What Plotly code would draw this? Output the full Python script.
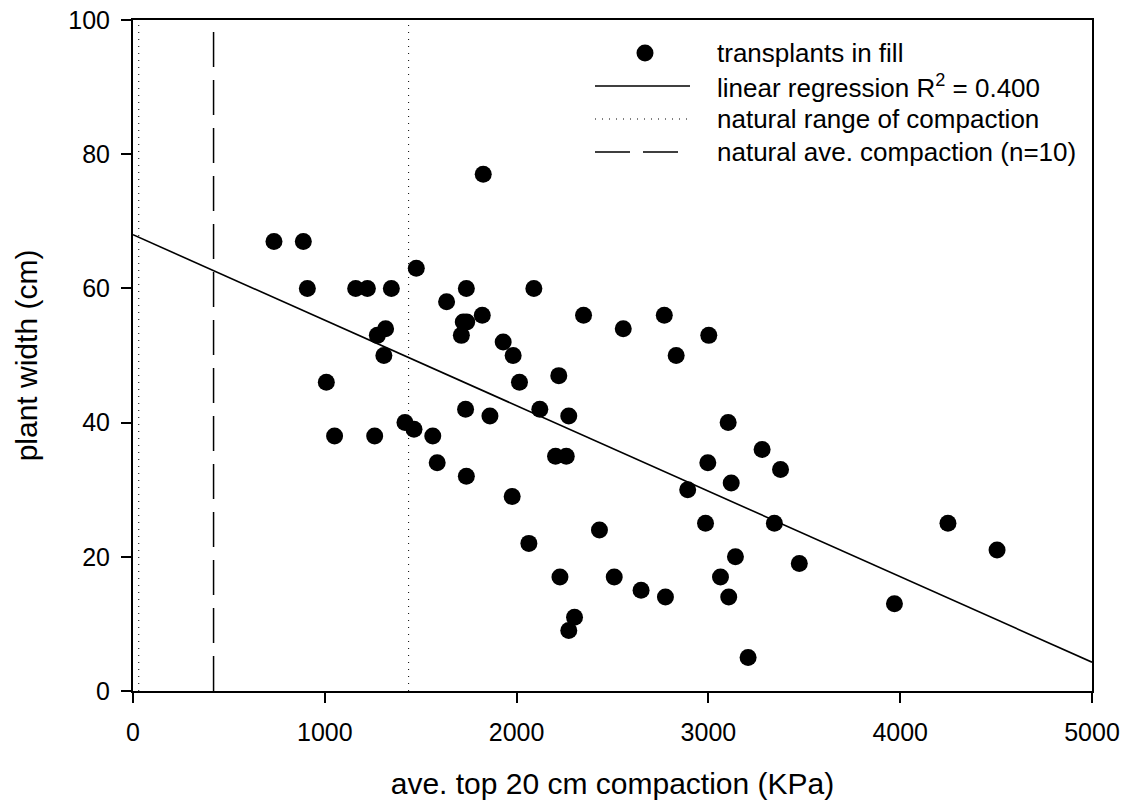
import plotly.graph_objects as go

# ---- data ----
compaction_kpa = [735, 888, 909, 1008, 1051, 1161, 1222, 1260, 1274, 1308, 1317, 1347,
                  1418, 1465, 1477, 1563, 1586, 1635, 1712, 1722, 1740, 1734, 1738, 1738,
                  1826, 1821, 1861, 1930, 1977, 1982, 2015, 2064, 2090, 2121, 2203, 2220,
                  2226, 2259, 2272, 2272, 2302, 2349, 2432, 2509, 2556, 2649, 2770, 2776,
                  2832, 2892, 2985, 2997, 3002, 3063, 3103, 3106, 3119, 3141, 3207, 3280,
                  3344, 3376, 3474, 3970, 4249, 4505]
plant_width_cm = [67, 67, 60, 46, 38, 60, 60, 38, 53, 50, 54, 60,
                  40, 39, 63, 38, 34, 58, 53, 55, 55, 42, 60, 32,
                  77, 56, 41, 52, 29, 50, 46, 22, 60, 42, 35, 47,
                  17, 35, 9, 41, 11, 56, 24, 17, 54, 15, 56, 14,
                  50, 30, 25, 34, 53, 17, 40, 14, 31, 20, 5, 36,
                  25, 33, 19, 13, 25, 21]

regression_x = [0, 5000]
regression_y = [68.0, 4.3]

natural_range = [30, 1437]      # KPa, dotted lines
natural_ave = 420               # KPa, dashed line

x_ticks = [0, 1000, 2000, 3000, 4000, 5000]
y_ticks = [0, 20, 40, 60, 80, 100]

legend_labels = ["transplants in fill",
                 "linear regression R<sup>2</sup> = 0.400",
                 "natural range of compaction",
                 "natural ave. compaction (n=10)"]

FONT = "Liberation Sans, Arial, sans-serif"
DOT = "1px,6px"
DASH = "35px,13px"

fig = go.Figure()

for xv in natural_range:
    fig.add_trace(go.Scatter(x=[xv, xv], y=[0, 100], mode="lines",
                             line=dict(color="black", width=1, dash=DOT),
                             name="natural range of compaction", showlegend=False,
                             hoverinfo="skip"))
fig.add_trace(go.Scatter(x=[natural_ave, natural_ave], y=[0, 100], mode="lines",
                         line=dict(color="black", width=1.5, dash=DASH),
                         name="natural ave. compaction (n=10)", showlegend=False))
fig.add_trace(go.Scatter(x=regression_x, y=regression_y, mode="lines",
                         line=dict(color="black", width=1.6),
                         name="linear regression", showlegend=False))
fig.add_trace(go.Scatter(x=compaction_kpa, y=plant_width_cm, mode="markers",
                         marker=dict(color="black", size=17, line=dict(width=0)),
                         name="transplants in fill", showlegend=False))

# ---- manual legend (paper coordinates) ----
L, R, T, B = 133, 35, 20, 113
W, H = 1127, 804
pw, ph = W - L - R, H - T - B

def px(x):
    return (x - L) / pw

def py(y):
    return (H - B - y) / ph

rows = [53, 86, 119, 152]
sym_l, sym_r, sym_c, text_x = 595, 690, 645, 715

shapes = []
shapes.append(dict(type="circle", xref="paper", yref="paper", xsizemode="pixel",
                   ysizemode="pixel", xanchor=px(sym_c), yanchor=py(rows[0]),
                   x0=-8.5, x1=8.5, y0=-8.5, y1=8.5,
                   fillcolor="black", line=dict(width=0)))
shapes.append(dict(type="line", xref="paper", yref="paper", x0=px(sym_l), x1=px(sym_r),
                   y0=py(rows[1]), y1=py(rows[1]), line=dict(color="black", width=1.6)))
shapes.append(dict(type="line", xref="paper", yref="paper", x0=px(sym_l), x1=px(sym_r),
                   y0=py(rows[2]), y1=py(rows[2]), line=dict(color="black", width=1, dash=DOT)))
shapes.append(dict(type="line", xref="paper", yref="paper", x0=px(sym_l), x1=px(sym_r),
                   y0=py(rows[3]), y1=py(rows[3]), line=dict(color="black", width=1.5, dash=DASH)))

annotations = []
for r, lab in zip(rows, legend_labels):
    annotations.append(dict(text=lab, xref="paper", yref="paper", x=px(text_x), y=py(r),
                            xanchor="left", yanchor="middle", showarrow=False,
                            font=dict(family=FONT, size=26, color="black")))

fig.update_layout(
    width=W, height=H,
    margin=dict(l=L, r=R, t=T, b=B, autoexpand=False),
    paper_bgcolor="white", plot_bgcolor="white",
    font=dict(family=FONT, color="black"),
    shapes=shapes, annotations=annotations,
    showlegend=False,
)

axis_common = dict(showline=True, linecolor="black", linewidth=2, mirror=True,
                   ticks="outside", ticklen=10, tickwidth=2, tickcolor="black",
                   showgrid=False, zeroline=False,
                   tickfont=dict(family=FONT, size=25, color="black"))

fig.update_xaxes(range=[0, 5000], tickvals=x_ticks, ticklabelstandoff=8,
                 title=dict(text="ave. top 20 cm compaction (KPa)",
                            font=dict(family=FONT, size=30, color="black"), standoff=28),
                 **axis_common)
fig.update_yaxes(range=[0, 100], tickvals=y_ticks, ticklabelstandoff=6,
                 title=dict(text="plant width (cm)",
                            font=dict(family=FONT, size=30, color="black"), standoff=22),
                 **axis_common)

fig.write_html("out.html")
